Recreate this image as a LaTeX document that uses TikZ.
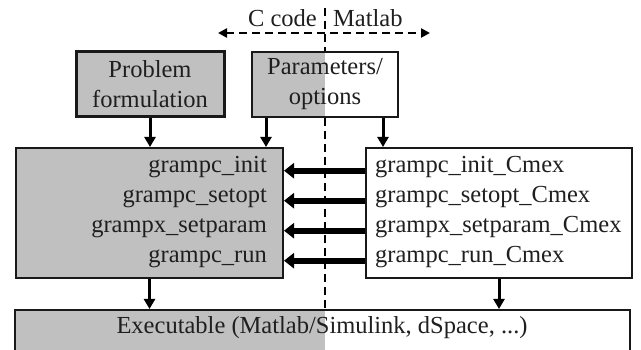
\documentclass[tikz,border=0pt]{standalone}
\usepackage{fontspec}
\setmainfont{Liberation Serif}
\usetikzlibrary{arrows.meta,calc}
\definecolor{boxgray}{RGB}{192,192,192}
\begin{document}
\begin{tikzpicture}[x=1pt,y=-1pt,
  every node/.style={font=\fontsize{24.5}{30}\selectfont, inner sep=0pt, text=black!88},
  blockbox/.style={draw=black!90, line width=2pt, rectangle},
  halfgray/.style={path picture={\fill[boxgray] (path picture bounding box.north west) rectangle (split |- path picture bounding box.south);}},
  flowarrow/.style={line width=3pt, -{Triangle[length=10pt,width=11pt]}},
  fatarrow/.style={line width=6pt, -{Triangle[length=10pt,width=15pt]}},
  divline/.style={line width=2pt, dash pattern=on 8pt off 5pt},
  divarrow/.style={line width=2.5pt, dash pattern=on 8pt off 5pt, {Triangle[length=9pt,width=9pt]}-{Triangle[length=9pt,width=9pt]}}]
\useasboundingbox (0,0) rectangle (641,350);
\clip (0,0) rectangle (641,350);

% C code / Matlab split
\coordinate (split) at (325,0);
\coordinate (dtop) at (325,8);
\coordinate (cl) at (218,33);
\coordinate (cr) at (430,33);
\node[anchor=base east] (ccode) at (317,27) {C code};
\node[anchor=base west] (matlab) at (333,27) {Matlab};
\draw[divarrow] (cl) -- (cr);

% input blocks
\node[blockbox, line width=3pt, fill=boxgray, minimum width=148pt, minimum height=65pt, align=center]
  (prob) at (150,84.5) {Problem\\formulation};
\node[blockbox, halfgray, minimum width=146pt, minimum height=65pt, align=center]
  (params) at (325,84.5) {Parameters/\\options};

% C functions and their Matlab interfaces
\node[blockbox, fill=boxgray, minimum width=267pt, minimum height=130pt] (lbox) at (149.5,213) {};
\node[blockbox, minimum width=266pt, minimum height=130pt] (rbox) at (499,213) {};

\node[anchor=base east] (l1) at (267,173) {grampc\_init};
\node[anchor=base east] (l2) at (267,203) {grampc\_setopt};
\node[anchor=base east] (l3) at (267,233) {grampx\_setparam};
\node[anchor=base east] (l4) at (267,263) {grampc\_run};

\node[anchor=base west] (r1) at (375,173) {grampc\_init\_Cmex};
\node[anchor=base west] (r2) at (375,203) {grampc\_setopt\_Cmex};
\node[anchor=base west] (r3) at (375,233) {grampx\_setparam\_Cmex};
\node[anchor=base west] (r4) at (375,263) {grampc\_run\_Cmex};

% executable
\node[blockbox, halfgray, minimum width=615pt, minimum height=50pt] (exec) at (322.5,335) {};
\node (exectext) at (322,328) {Executable (Matlab/Simulink, dSpace, ...)};

% dashed divider
\draw[divline] (dtop) -- (params.north);
\draw[divline] (params.south) -- (params.south |- exec.north);

% connectors
\coordinate (pa) at ([xshift=15pt]params.south west);
\coordinate (pb) at ([xshift=-16pt]params.south east);
\draw[flowarrow] (prob.south) -- (prob.south |- lbox.north);
\draw[flowarrow] (pa) -- (pa |- lbox.north);
\draw[flowarrow] (pb) -- (pb |- rbox.north);
\draw[flowarrow] (lbox.south) -- (lbox.south |- exec.north);
\draw[flowarrow] (rbox.south) -- (rbox.south |- exec.north);

\draw[fatarrow] (rbox.west |- r1.mid) -- (lbox.east |- r1.mid);
\draw[fatarrow] (rbox.west |- r2.mid) -- (lbox.east |- r2.mid);
\draw[fatarrow] (rbox.west |- r3.mid) -- (lbox.east |- r3.mid);
\draw[fatarrow] (rbox.west |- r4.mid) -- (lbox.east |- r4.mid);
\end{tikzpicture}
\end{document}
